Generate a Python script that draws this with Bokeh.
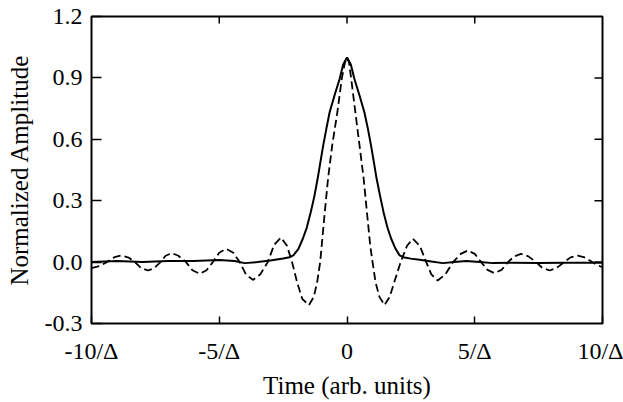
import math
from bokeh.plotting import figure
from bokeh.models import FixedTicker, Range1d, PrintfTickFormatter
from bokeh.embed import file_html
from bokeh.resources import INLINE

# Solid curve
solid_x = [-10.0, -9.0, -8.0, -7.0, -6.0, -5.0, -4.4, -4.0, -3.5, -3.0, -2.5, -2.25,
           -2.1, -1.9, -1.73, -1.57, -1.42, -1.28, -1.15, -1.04, -0.93, -0.81, -0.68,
           -0.49, -0.29, -0.15, 0.0, 0.15, 0.29, 0.49, 0.68, 0.82, 0.94, 1.05, 1.16,
           1.3, 1.43, 1.58, 1.73, 1.9, 2.06, 2.25, 2.5, 2.84, 3.3, 3.75, 4.2, 4.66, 5.2,
           5.71, 6.5, 7.5, 8.5, 9.5, 10.0]
solid_y = [0.0, 0.005, 0.0, 0.005, 0.005, 0.01, 0.005, -0.005, 0.0, 0.008, 0.018, 0.024,
           0.033, 0.065, 0.114, 0.17, 0.244, 0.32, 0.407, 0.49, 0.57, 0.65, 0.732,
           0.814, 0.895, 0.965, 1.0, 0.965, 0.895, 0.814, 0.732, 0.65, 0.57, 0.49, 0.407,
           0.32, 0.244, 0.17, 0.114, 0.065, 0.033, 0.022, 0.017, 0.011, 0.003, -0.005,
           0.0, 0.005, 0.0, -0.005, -0.003, -0.005, -0.003, -0.003, -0.003]

# Dashed curve
dash_x = [-10.0, -9.7, -9.4, -9.1, -8.84, -8.55, -8.3, -8.05, -7.79, -7.55, -7.3, -7.1,
          -6.86, -6.6, -6.3, -6.05, -5.76, -5.5, -5.25, -5.0, -4.73, -4.45, -4.2, -3.95,
          -3.68, -3.4, -3.1, -2.85, -2.58, -2.35, -2.15, -1.95, -1.75, -1.49, -1.3, -1.17,
          -1.05, -0.99, -0.87, -0.74, -0.58, -0.38, -0.2, -0.08, 0.0, 0.08, 0.16, 0.33,
          0.49, 0.65, 0.78, 0.91, 1.0, 1.12, 1.27, 1.47, 1.67, 1.87, 2.1, 2.35, 2.58,
          2.85, 3.1, 3.3, 3.55, 3.85, 4.15, 4.45, 4.73, 5.0, 5.25, 5.5, 5.77, 6.05, 6.3,
          6.55, 6.81, 7.1, 7.4, 7.65, 7.93, 8.2, 8.5, 8.75, 9.03, 9.3, 9.6, 9.8, 10.0]
dash_y = [-0.03, -0.02, 0.0, 0.024, 0.032, 0.022, 0.0, -0.03, -0.041, -0.03, 0.0, 0.031,
          0.044, 0.031, 0.0, -0.04, -0.057, -0.04, 0.0, 0.046, 0.065, 0.046, 0.0, -0.061,
          -0.087, -0.061, 0.0, 0.085, 0.12, 0.08, 0.0, -0.1, -0.18, -0.21, -0.17, -0.1,
          0.0, 0.08, 0.244, 0.41, 0.57, 0.73, 0.9, 0.975, 1.0, 0.975, 0.9, 0.73,
          0.57, 0.41, 0.244, 0.08, 0.0, -0.1, -0.17, -0.21, -0.17, -0.09, 0.0, 0.08, 0.114,
          0.08, 0.0, -0.06, -0.09, -0.06, 0.0, 0.04, 0.057, 0.04, 0.0, -0.038, -0.054,
          -0.038, 0.0, 0.028, 0.04, 0.028, 0.0, -0.029, -0.041, -0.029, 0.0, 0.023, 0.032,
          0.023, 0.0, -0.015, -0.025]

x_ticks = [-10, -5, 0, 5, 10]
x_tick_labels = ["-10/Δ", "-5/Δ", "0", "5/Δ", "10/Δ"]
y_ticks = [-0.3, 0.0, 0.3, 0.6, 0.9, 1.2]
x_lo, x_hi = -10, 10
y_lo, y_hi = -0.3, 1.2

FONT = "Liberation Serif"

p = figure(width=623, height=402, output_backend="svg", toolbar_location=None,
           x_range=Range1d(x_lo, x_hi), y_range=Range1d(y_lo, y_hi),
           min_border_left=91, min_border_right=21, min_border_top=16,
           min_border_bottom=79)
p.grid.visible = False
p.outline_line_color = "black"
p.outline_line_width = 2
p.background_fill_color = "white"
p.border_fill_color = "white"

p.line(solid_x, solid_y, line_color="black", line_width=2)
p.line(dash_x, dash_y, line_color="black", line_width=1.8, line_dash="8 4")

# inward ticks on the top and right edges of the frame
p.ray(x=x_ticks[1:-1], y=[y_hi] * (len(x_ticks) - 2), length=7, length_units="screen",
      angle=-math.pi / 2, line_color="black", line_width=1.5)
p.ray(x=[x_hi] * (len(y_ticks) - 2), y=y_ticks[1:-1], length=8, length_units="screen",
      angle=math.pi, line_color="black", line_width=1.5)

xa = p.xaxis[0]
xa.ticker = FixedTicker(ticks=x_ticks)
xa.major_label_overrides = {t: l for t, l in zip(x_ticks, x_tick_labels)}
xa.axis_label = "Time (arb. units)"

ya = p.yaxis[0]
ya.ticker = FixedTicker(ticks=y_ticks)
ya.formatter = PrintfTickFormatter(format="%.1f")
ya.axis_label = "Normalized Amplitude"

for ax in (xa, ya):
    ax.axis_line_color = None
    ax.major_tick_out = 0
    ax.major_tick_line_color = "black"
    ax.major_tick_line_width = 1.5
    ax.minor_tick_line_color = None
    ax.major_label_text_font = FONT
    ax.major_label_text_font_size = "24px"
    ax.major_label_text_color = "black"
    ax.axis_label_text_font = FONT
    ax.axis_label_text_font_size = "25px"
    ax.axis_label_text_font_style = "normal"
    ax.axis_label_text_color = "black"

xa.major_tick_in = 7
ya.major_tick_in = 10
xa.major_label_standoff = 14
xa.axis_label_standoff = 5
ya.major_label_standoff = 9
ya.axis_label_standoff = 9

open("out.html", "w").write(file_html(p, INLINE))
